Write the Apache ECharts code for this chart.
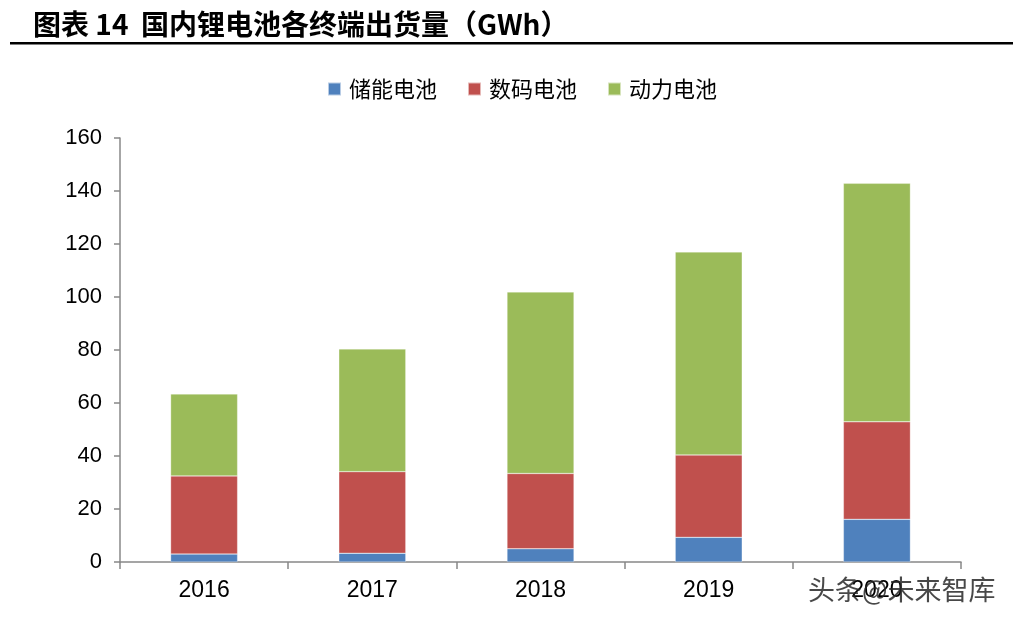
<!DOCTYPE html>
<html><head><meta charset="utf-8">
<script src="https://cdn.jsdelivr.net/npm/echarts@6/dist/echarts.min.js"></script>
<style>html,body{margin:0;padding:0;background:#fff}#c{width:1013px;height:624px}</style>
</head><body><div id="c"></div>
<script>
const categories = ['2016','2017','2018','2019','2020'];
const storage = [3.0, 3.3, 5.0, 9.3, 16.1];
const digital = [29.5, 30.8, 28.4, 31.1, 36.8];
const power = [30.9, 46.3, 68.5, 76.6, 90.0];
const seriesNames = ['储能电池','数码电池','动力电池'];
const yTicks = {min:0, max:160, interval:20};

const chart = echarts.init(document.getElementById('c'));
const cjk = '"Noto Sans CJK SC", sans-serif';
const latin = '"Liberation Sans", Arial, sans-serif';
function mk(name, data, color){
  return {name, type:'bar', stack:'s', data, barWidth:67,
    itemStyle:{color, borderColor:'rgba(255,255,255,0.6)', borderWidth:0.5}};
}
chart.setOption({
  animation:false,
  title:{text:'图表 14  国内锂电池各终端出货量（GWh）', left:28, top:5,
    textStyle:{fontFamily:cjk, fontSize:28, fontWeight:'bold', color:'#000'}},
  graphic:[
    {type:'rect', shape:{x:10,y:42,width:1003,height:2.5}, style:{fill:'#000'}},
    {type:'text', left:808, top:576, z:100, style:{text:'头条@未来智库', fontFamily:cjk, fontSize:27, fill:'rgba(40,40,40,0.85)'}}
  ],
  legend:{top:73, left:322, itemWidth:13, itemHeight:13, itemGap:30,
    icon:'rect', data:seriesNames,
    textStyle:{fontFamily:cjk, fontSize:22, color:'#000', padding:[0,0,0,3]}},
  grid:{left:120, right:52, top:138, bottom:62},
  xAxis:{type:'category', data:categories,
    axisLine:{lineStyle:{color:'#888', width:1.5}},
    axisTick:{show:true, length:7, lineStyle:{color:'#888', width:1.5}},
    axisLabel:{fontFamily:latin, fontSize:23, color:'#000', margin:17}},
  yAxis:{type:'value', min:yTicks.min, max:yTicks.max, interval:yTicks.interval,
    axisLine:{show:true, lineStyle:{color:'#888', width:1.5}},
    axisTick:{show:true, length:6, lineStyle:{color:'#888', width:1.5}},
    splitLine:{show:false},
    axisLabel:{fontFamily:latin, fontSize:22, color:'#000', margin:18}},
  series:[mk(seriesNames[0], storage, '#4f81bd'), mk(seriesNames[1], digital, '#c0504d'), mk(seriesNames[2], power, '#9bbb59')]
});
</script></body></html>
